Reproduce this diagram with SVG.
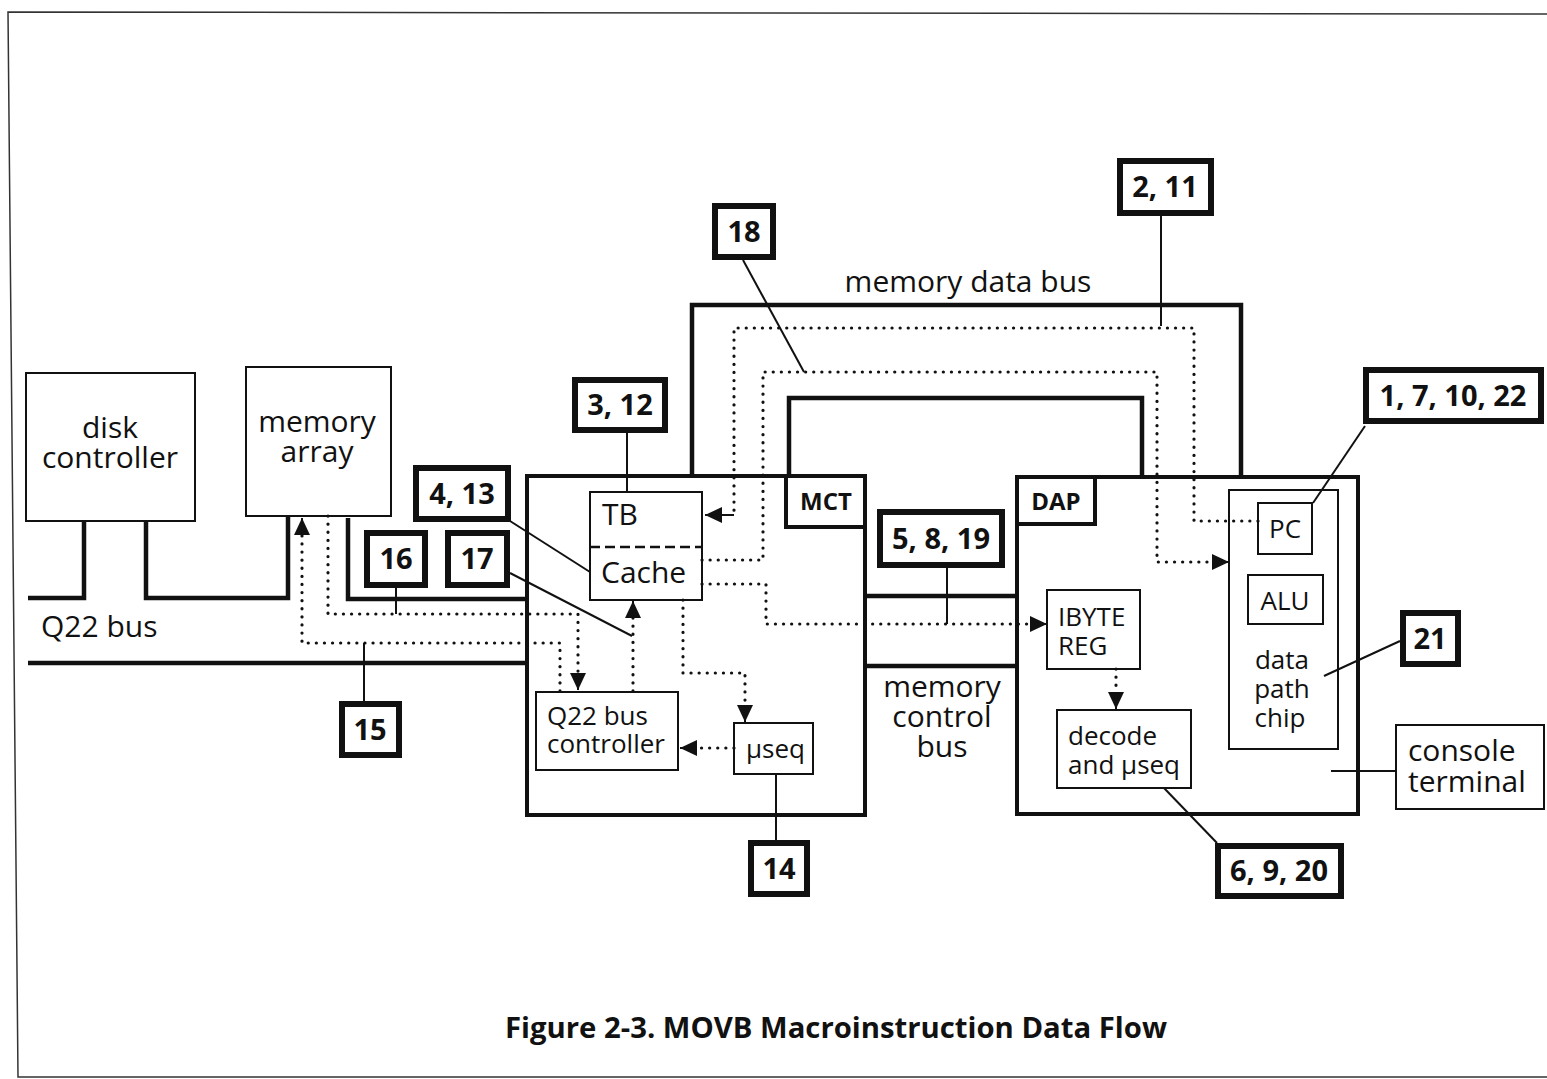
<svg xmlns="http://www.w3.org/2000/svg" width="1547" height="1079" viewBox="0 0 1547 1079">
<style>
text{font-family:"Open Sans","Liberation Sans",sans-serif;fill:#111}
.t30{font-size:30px}
.t26{font-size:26px}
.lbl{font-size:29px;font-weight:700;text-anchor:middle}
.hd{font-size:24px;font-weight:700;text-anchor:middle}
.mid{text-anchor:middle}
.box{fill:#fff;stroke:#111;stroke-width:2}
.big{fill:#fff;stroke:#111;stroke-width:4}
.lb{fill:#fff;stroke:#111;stroke-width:6}
.bus{fill:none;stroke:#111;stroke-width:4.5}
.ln{fill:none;stroke:#111;stroke-width:2}
.dot{fill:none;stroke:#111;stroke-width:3.2;stroke-linecap:round;stroke-dasharray:0.1 8}
.frame{fill:none;stroke:#333;stroke-width:1.5}
</style>
<defs>
<marker id="ah" markerUnits="userSpaceOnUse" markerWidth="18" markerHeight="16" refX="17" refY="8" orient="auto">
<path d="M0,0 L17,8 L0,16 z" fill="#111"/>
</marker>
</defs>
<rect width="1547" height="1079" fill="#fff"/>
<path class="frame" d="M1547,14 L8,12 L18,1077 L1547,1077"/>

<g id="buses">
<path class="bus" d="M28,598 H84 V521"/>
<path class="bus" d="M146,521 V598 H288 V516"/>
<path class="bus" d="M348,518 V599 H527"/>
<path class="bus" d="M28,663 H527"/>
<path class="bus" d="M692,476 V305 H1241 V477"/>
<path class="bus" d="M789,476 V398 H1142 V477"/>
<path class="bus" d="M866,596 H1018"/>
<path class="bus" d="M866,666 H1018"/>
</g>

<g id="disk-controller">
<rect class="box" x="26" y="373" width="169" height="148"/>
<text class="t30 mid" x="110" y="438">disk</text>
<text class="t30 mid" x="110" y="468">controller</text>
</g>
<g id="memory-array">
<rect class="box" x="246" y="367" width="145" height="149"/>
<text class="t30 mid" x="317" y="432">memory</text>
<text class="t30 mid" x="317" y="462">array</text>
</g>
<text class="t30" x="41" y="637">Q22 bus</text>
<text class="t30 mid" x="968" y="292">memory data bus</text>
<text class="t30 mid" x="942" y="697">memory</text>
<text class="t30 mid" x="942" y="727">control</text>
<text class="t30 mid" x="942" y="757">bus</text>

<g id="MCT">
<rect class="big" x="527" y="476" width="338" height="339"/>
<rect class="big" x="786" y="476" width="79" height="51"/>
<text class="hd" x="826" y="510">MCT</text>
</g>
<g id="DAP">
<rect class="big" x="1017" y="477" width="341" height="337"/>
<rect class="big" x="1017" y="477" width="78" height="47"/>
<text class="hd" x="1056" y="510">DAP</text>
</g>

<g id="tb-cache">
<rect class="box" x="590" y="492" width="112" height="108"/>
<line x1="590" y1="547" x2="702" y2="547" stroke="#111" stroke-width="2.5" stroke-dasharray="10 5"/>
<text class="t30" x="602" y="525">TB</text>
<text class="t30" x="601" y="583">Cache</text>
</g>
<g id="q22-bus-controller">
<rect class="box" x="536" y="692" width="142" height="78"/>
<text class="t26" x="547" y="725">Q22 bus</text>
<text class="t26" x="547" y="753">controller</text>
</g>
<g id="useq">
<rect class="box" x="734" y="723" width="79" height="51"/>
<text class="t26" x="746" y="758">µseq</text>
</g>
<g id="ibyte-reg">
<rect class="box" x="1047" y="590" width="93" height="79"/>
<text class="t26" x="1058" y="626">IBYTE</text>
<text class="t26" x="1058" y="655">REG</text>
</g>
<g id="decode">
<rect class="box" x="1057" y="710" width="134" height="78"/>
<text class="t26" x="1068" y="745">decode</text>
<text class="t26" x="1068" y="774">and µseq</text>
</g>
<g id="data-path-chip">
<rect class="box" x="1229" y="490" width="109" height="259"/>
<text class="t26 mid" x="1282" y="669">data</text>
<text class="t26 mid" x="1282" y="698">path</text>
<text class="t26 mid" x="1280" y="727">chip</text>
</g>
<g id="pc">
<rect class="box" x="1258" y="503" width="54" height="51"/>
<text class="t26 mid" x="1285" y="538">PC</text>
</g>
<g id="alu">
<rect class="box" x="1248" y="575" width="75" height="49"/>
<text class="t26 mid" x="1285" y="610">ALU</text>
</g>
<g id="console-terminal">
<rect class="box" x="1396" y="725" width="148" height="84"/>
<text class="t30" x="1408" y="761">console</text>
<text class="t30" x="1408" y="792">terminal</text>
</g>

<g id="connectors">
<path class="dot" d="M1258,521 H1194 V328 H734 V515"/>
<path class="ln" d="M734,515 H705" marker-end="url(#ah)"/>
<path class="dot" d="M702,560 H763 V372 H1157 V562 H1212"/>
<path class="ln" d="M1212,562 H1229" marker-end="url(#ah)"/>
<path class="dot" d="M702,584 H766 V624 H1030"/>
<path class="ln" d="M1030,624 H1047" marker-end="url(#ah)"/>
<path class="dot" d="M683,600 V673 H745 V705"/>
<path class="ln" d="M745,705 V722" marker-end="url(#ah)"/>
<path class="dot" d="M734,748 H697"/>
<path class="ln" d="M697,748 H680" marker-end="url(#ah)"/>
<path class="dot" d="M633,691 V618"/>
<path class="ln" d="M633,618 V601" marker-end="url(#ah)"/>
<path class="dot" d="M328,516 V614 H578 V673"/>
<path class="ln" d="M578,673 V690" marker-end="url(#ah)"/>
<path class="dot" d="M560,691 V643 H302 V535"/>
<path class="ln" d="M302,535 V518" marker-end="url(#ah)"/>
<path class="dot" d="M1116,669 V692"/>
<path class="ln" d="M1116,692 V709" marker-end="url(#ah)"/>

<line class="ln" x1="743" y1="260" x2="804" y2="372"/>
<line class="ln" x1="1161" y1="216" x2="1161" y2="326"/>
<line class="ln" x1="627" y1="433" x2="627" y2="492"/>
<line class="ln" x1="510" y1="521" x2="590" y2="572"/>
<line class="ln" x1="396" y1="588" x2="396" y2="614"/>
<line class="ln" x1="510" y1="573" x2="632" y2="636"/>
<line class="ln" x1="364" y1="643" x2="364" y2="701"/>
<line class="ln" x1="776" y1="774" x2="776" y2="840"/>
<line class="ln" x1="947" y1="568" x2="947" y2="624"/>
<line class="ln" x1="1365" y1="426" x2="1313" y2="503"/>
<line class="ln" x1="1400" y1="641" x2="1324" y2="676"/>
<line class="ln" x1="1164" y1="788" x2="1217" y2="843"/>
<line class="ln" x1="1331" y1="771" x2="1396" y2="771"/>
</g>

<g id="label-18"><rect class="lb" x="715" y="206" width="58" height="51"/><text class="lbl" x="744" y="242">18</text></g>
<g id="label-2-11"><rect class="lb" x="1120" y="161" width="91" height="52"/><text class="lbl" x="1165" y="197">2, 11</text></g>
<g id="label-3-12"><rect class="lb" x="575" y="380" width="90" height="50"/><text class="lbl" x="620" y="415">3, 12</text></g>
<g id="label-4-13"><rect class="lb" x="416" y="468" width="92" height="51"/><text class="lbl" x="462" y="504">4, 13</text></g>
<g id="label-16"><rect class="lb" x="367" y="533" width="58" height="52"/><text class="lbl" x="396" y="569">16</text></g>
<g id="label-17"><rect class="lb" x="448" y="533" width="59" height="52"/><text class="lbl" x="477" y="569">17</text></g>
<g id="label-15"><rect class="lb" x="342" y="704" width="57" height="51"/><text class="lbl" x="370" y="740">15</text></g>
<g id="label-14"><rect class="lb" x="751" y="843" width="56" height="51"/><text class="lbl" x="779" y="879">14</text></g>
<g id="label-5-8-19"><rect class="lb" x="880" y="512" width="122" height="53"/><text class="lbl" x="941" y="549">5, 8, 19</text></g>
<g id="label-1-7-10-22"><rect class="lb" x="1366" y="370" width="175" height="51"/><text class="lbl" x="1453" y="406">1, 7, 10, 22</text></g>
<g id="label-21"><rect class="lb" x="1403" y="613" width="55" height="51"/><text class="lbl" x="1430" y="649">21</text></g>
<g id="label-6-9-20"><rect class="lb" x="1218" y="846" width="123" height="50"/><text class="lbl" x="1279" y="881">6, 9, 20</text></g>

<text x="505" y="1038" font-size="28" font-weight="700" textLength="662" lengthAdjust="spacingAndGlyphs">Figure 2-3. MOVB Macroinstruction Data Flow</text>
</svg>
